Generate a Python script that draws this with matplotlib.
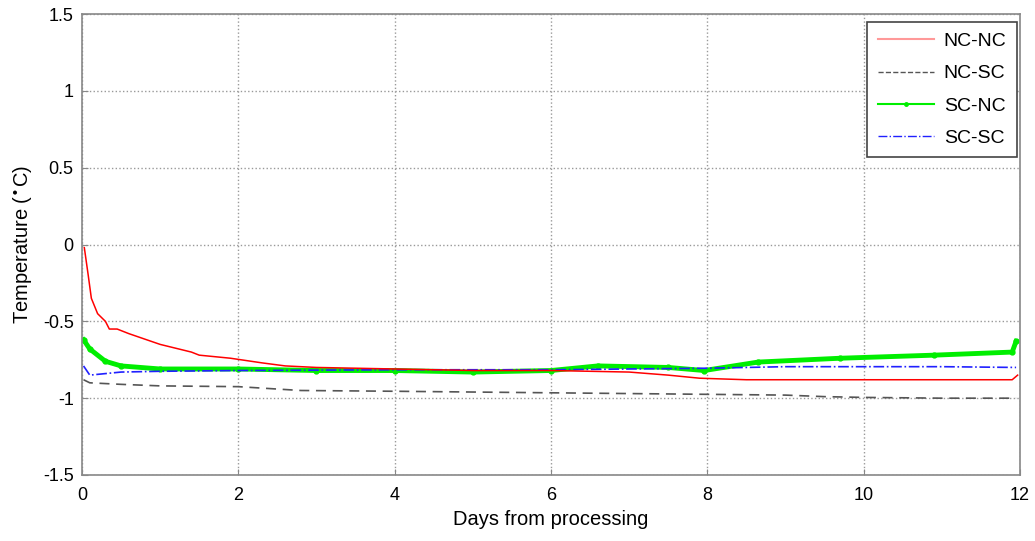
import matplotlib
matplotlib.use('Agg')
import matplotlib.pyplot as plt
from matplotlib.lines import Line2D

plt.rcParams['font.family'] = ['Liberation Sans', 'DejaVu Sans']

# NC-NC (red)
nc_nc_days = [0.03, 0.08, 0.12, 0.2, 0.3, 0.35, 0.45, 0.6, 1.0, 1.4, 1.5, 1.9, 2.3, 2.6, 3.0,
              4.0, 5.0, 6.0, 7.0, 7.5, 7.9, 8.5, 11.9, 11.97]
nc_nc_temp = [-0.02, -0.2, -0.35, -0.45, -0.5, -0.55, -0.55, -0.58, -0.65, -0.70, -0.72, -0.74,
              -0.77, -0.79, -0.80, -0.81, -0.82, -0.82, -0.83, -0.85, -0.87, -0.88, -0.88, -0.85]

# NC-SC (black dashed)
nc_sc_days = [0.02, 0.1, 0.5, 1.0, 2.0, 2.8, 4.0, 5.0, 6.0, 7.0, 8.0, 9.0, 9.5, 10.0, 11.0, 11.95]
nc_sc_temp = [-0.88, -0.90, -0.91, -0.92, -0.925, -0.95, -0.955, -0.96, -0.965, -0.97, -0.975,
              -0.98, -0.99, -0.995, -1.0, -1.0]

# SC-NC (green)
sc_nc_days = [0.02, 0.1, 0.3, 0.5, 1.0, 2.0, 3.0, 4.0, 5.0, 6.0, 6.6, 7.5, 7.96, 8.65, 9.7,
              10.9, 11.9, 11.95]
sc_nc_temp = [-0.62, -0.68, -0.76, -0.79, -0.81, -0.81, -0.82, -0.82, -0.83, -0.82, -0.79,
              -0.80, -0.82, -0.765, -0.74, -0.72, -0.70, -0.63]

# SC-SC (blue dash-dot)
sc_sc_days = [0.02, 0.1, 0.5, 1.0, 2.0, 4.0, 6.0, 7.0, 8.0, 9.0, 10.0, 11.0, 11.95]
sc_sc_temp = [-0.79, -0.85, -0.83, -0.825, -0.82, -0.815, -0.815, -0.81, -0.805, -0.795,
              -0.795, -0.795, -0.80]

labels = ['NC-NC', 'NC-SC', 'SC-NC', 'SC-SC']

fig = plt.figure(figsize=(10.35, 5.41), dpi=100)
ax = fig.add_axes([0.0792, 0.122, 0.9063, 0.852])

ax.plot(nc_sc_days, nc_sc_temp, color='#555555', ls='--', lw=1.2, dashes=(6, 4))
ax.plot(sc_nc_days, sc_nc_temp, color='#00ee00', lw=3.5, marker='.', ms=7)
ax.plot(sc_sc_days, sc_sc_temp, color='#2020ff', ls='-.', lw=1.2)
ax.plot(nc_nc_days, nc_nc_temp, color='red', lw=1.1)

ax.set_xlim(0, 12)
ax.set_ylim(-1.5, 1.5)
ax.set_xticks([0, 2, 4, 6, 8, 10, 12])
ax.set_yticks([-1.5, -1, -0.5, 0, 0.5, 1, 1.5])
ax.set_yticklabels(['-1.5', '-1', '-0.5', '0', '0.5', '1', '1.5'])
ax.grid(True, ls=':', color='#999999', lw=1)
ax.tick_params(labelsize=13, direction='in', length=4, color='#888888')
ax.tick_params(axis='x', pad=9)
ax.tick_params(axis='y', pad=6)
for s in ax.spines.values():
    s.set_color('#888888')
    s.set_linewidth(1.2)

ax.set_xlabel('Days from processing', fontsize=14.5, labelpad=4)
ax.set_ylabel('Temperature ($^{\\bullet}$C)', fontsize=14.5, labelpad=6)

handles = [Line2D([], [], color='#ff9999', lw=1.5),
           Line2D([], [], color='#555555', ls='--', lw=1),
           Line2D([], [], color='#00ee00', lw=1.5, marker='.', ms=5, markevery=[1]),
           Line2D([], [], color='#2020ff', ls='-.', lw=1)]
leg = ax.legend(handles, labels, loc='upper right', bbox_to_anchor=(0.997, 0.983),
                borderaxespad=0, fontsize=14, fancybox=False, framealpha=1,
                edgecolor='#444444', handlelength=2.9, labelspacing=0.75,
                borderpad=0.55, handletextpad=0.5)
leg.get_frame().set_linewidth(1.2)

fig.savefig('out.png', dpi=100)
